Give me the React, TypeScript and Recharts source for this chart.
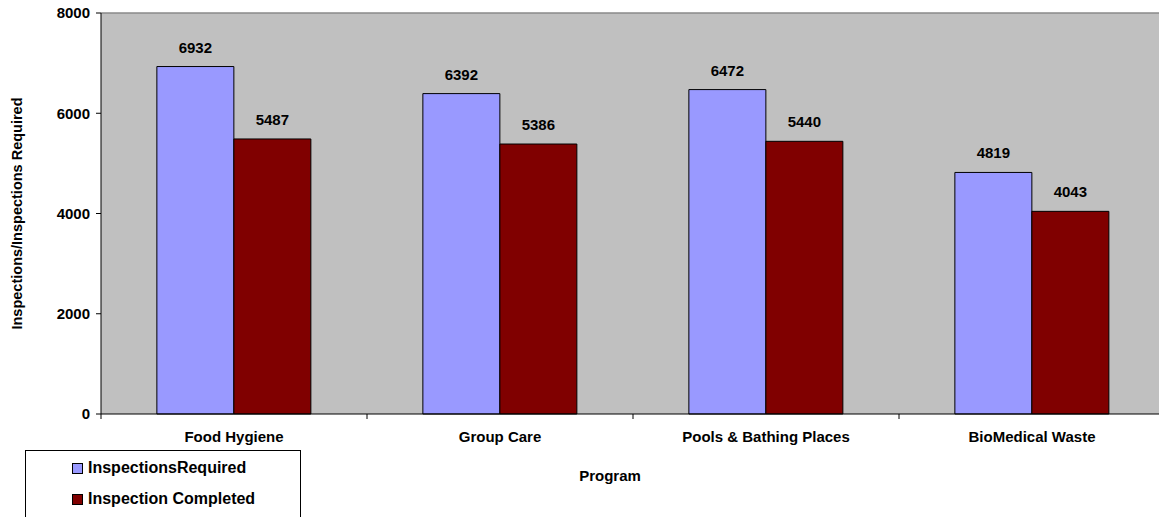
import React from 'react'
import { BarChart, Bar, XAxis, YAxis, CartesianGrid, LabelList, ReferenceLine, Label } from 'recharts'

const programs = ['Food Hygiene', 'Group Care', 'Pools & Bathing Places', 'BioMedical Waste']
const inspectionsRequired = [6932, 6392, 6472, 4819]
const inspectionsCompleted = [5487, 5386, 5440, 4043]
const yTicks = [0, 2000, 4000, 6000, 8000]

const data = programs.map((program, i) => ({
  program,
  required: inspectionsRequired[i],
  completed: inspectionsCompleted[i],
}))

const FONT = '"Liberation Sans", Arial, sans-serif'
const CHART_W = 1170
const CHART_H = 517
const MARGIN = { top: 13, right: 5, bottom: 63, left: 0 }
const Y_AXIS_W = 101
const BAND = (CHART_W - MARGIN.left - MARGIN.right - Y_AXIS_W) / programs.length

// category label in the middle, tick marks on the category boundaries
const ProgramTick = (props: any) => {
  const { x, y, payload, index } = props
  const axisY = y - 8
  return (
    <g>
      {index === 0 && <line x1={x - BAND / 2} x2={x - BAND / 2} y1={axisY} y2={axisY + 5} stroke="#000" />}
      <line x1={x + BAND / 2} x2={x + BAND / 2} y1={axisY} y2={axisY + 5} stroke="#000" />
      <text x={x} y={y + 20} textAnchor="middle" fontFamily={FONT} fontWeight="bold" fontSize={15} fill="#000">
        {payload.value}
      </text>
    </g>
  )
}

const YTitle = (props: any) => {
  const { viewBox } = props
  const cx = viewBox.x + 22
  const cy = viewBox.y + viewBox.height / 2
  return (
    <text x={cx} y={cy} transform={`rotate(-90 ${cx} ${cy})`} textAnchor="middle" fontFamily={FONT} fontWeight="bold" fontSize={14.5} fill="#000">
      Inspections/Inspections Required
    </text>
  )
}

const XTitle = (props: any) => {
  const { viewBox } = props
  return (
    <text x={viewBox.x + viewBox.width / 2 - 23} y={viewBox.y + viewBox.height + 27} textAnchor="middle" fontFamily={FONT} fontWeight="bold" fontSize={15} fill="#000">
      Program
    </text>
  )
}

const legendItems = [
  { label: 'InspectionsRequired', color: '#9999FF' },
  { label: 'Inspection Completed', color: '#800000' },
]

const LegendBox = () => (
  <div style={{ position: 'absolute', left: 25, top: 450, width: 276, height: 90, border: '1px solid #000', background: '#fff', boxSizing: 'border-box', fontFamily: FONT, fontWeight: 'bold', fontSize: 16 }}>
    {legendItems.map((item, i) => (
      <div key={item.label} style={{ position: 'absolute', left: 46, top: 7 + i * 31, display: 'flex', alignItems: 'center', lineHeight: '20px' }}>
        <span style={{ width: 9, height: 9, background: item.color, border: '1px solid #000', marginRight: 5 }} />
        <span>{item.label}</span>
      </div>
    ))}
  </div>
)

export default function App() {
  return (
    <div style={{ position: 'absolute', left: 0, top: 0, width: 1159, height: 517, overflow: 'hidden', background: '#fff' }}>
      <BarChart width={CHART_W} height={CHART_H} data={data} margin={MARGIN} barCategoryGap="21%" barGap={0}>
        <CartesianGrid fill="#C0C0C0" vertical={false} horizontal={false} />
        <XAxis
          dataKey="program"
          height={40}
          axisLine={{ stroke: '#000' }}
          tickLine={false}
          tickSize={6}
          tickMargin={2}
          interval={0}
          tick={<ProgramTick />}
        >
          <Label content={<XTitle />} />
        </XAxis>
        <YAxis
          width={Y_AXIS_W}
          domain={[0, 8000]}
          ticks={yTicks}
          axisLine={{ stroke: '#000' }}
          tickLine={{ stroke: '#000' }}
          tickSize={5}
          tickMargin={6}
          tick={{ fill: '#000', fontFamily: FONT, fontWeight: 'bold', fontSize: 15 }}
        >
          <Label content={<YTitle />} />
        </YAxis>
        <ReferenceLine y={8000} stroke="#8a8a8a" strokeWidth={1.5} />
        <Bar dataKey="required" name="InspectionsRequired" fill="#9999FF" stroke="#000" strokeWidth={1} isAnimationActive={false}>
          <LabelList dataKey="required" position="top" offset={14} fill="#000" fontFamily={FONT} fontWeight="bold" fontSize={15} />
        </Bar>
        <Bar dataKey="completed" name="Inspection Completed" fill="#800000" stroke="#000" strokeWidth={1} isAnimationActive={false}>
          <LabelList dataKey="completed" position="top" offset={14} fill="#000" fontFamily={FONT} fontWeight="bold" fontSize={15} />
        </Bar>
      </BarChart>
      <LegendBox />
    </div>
  )
}
